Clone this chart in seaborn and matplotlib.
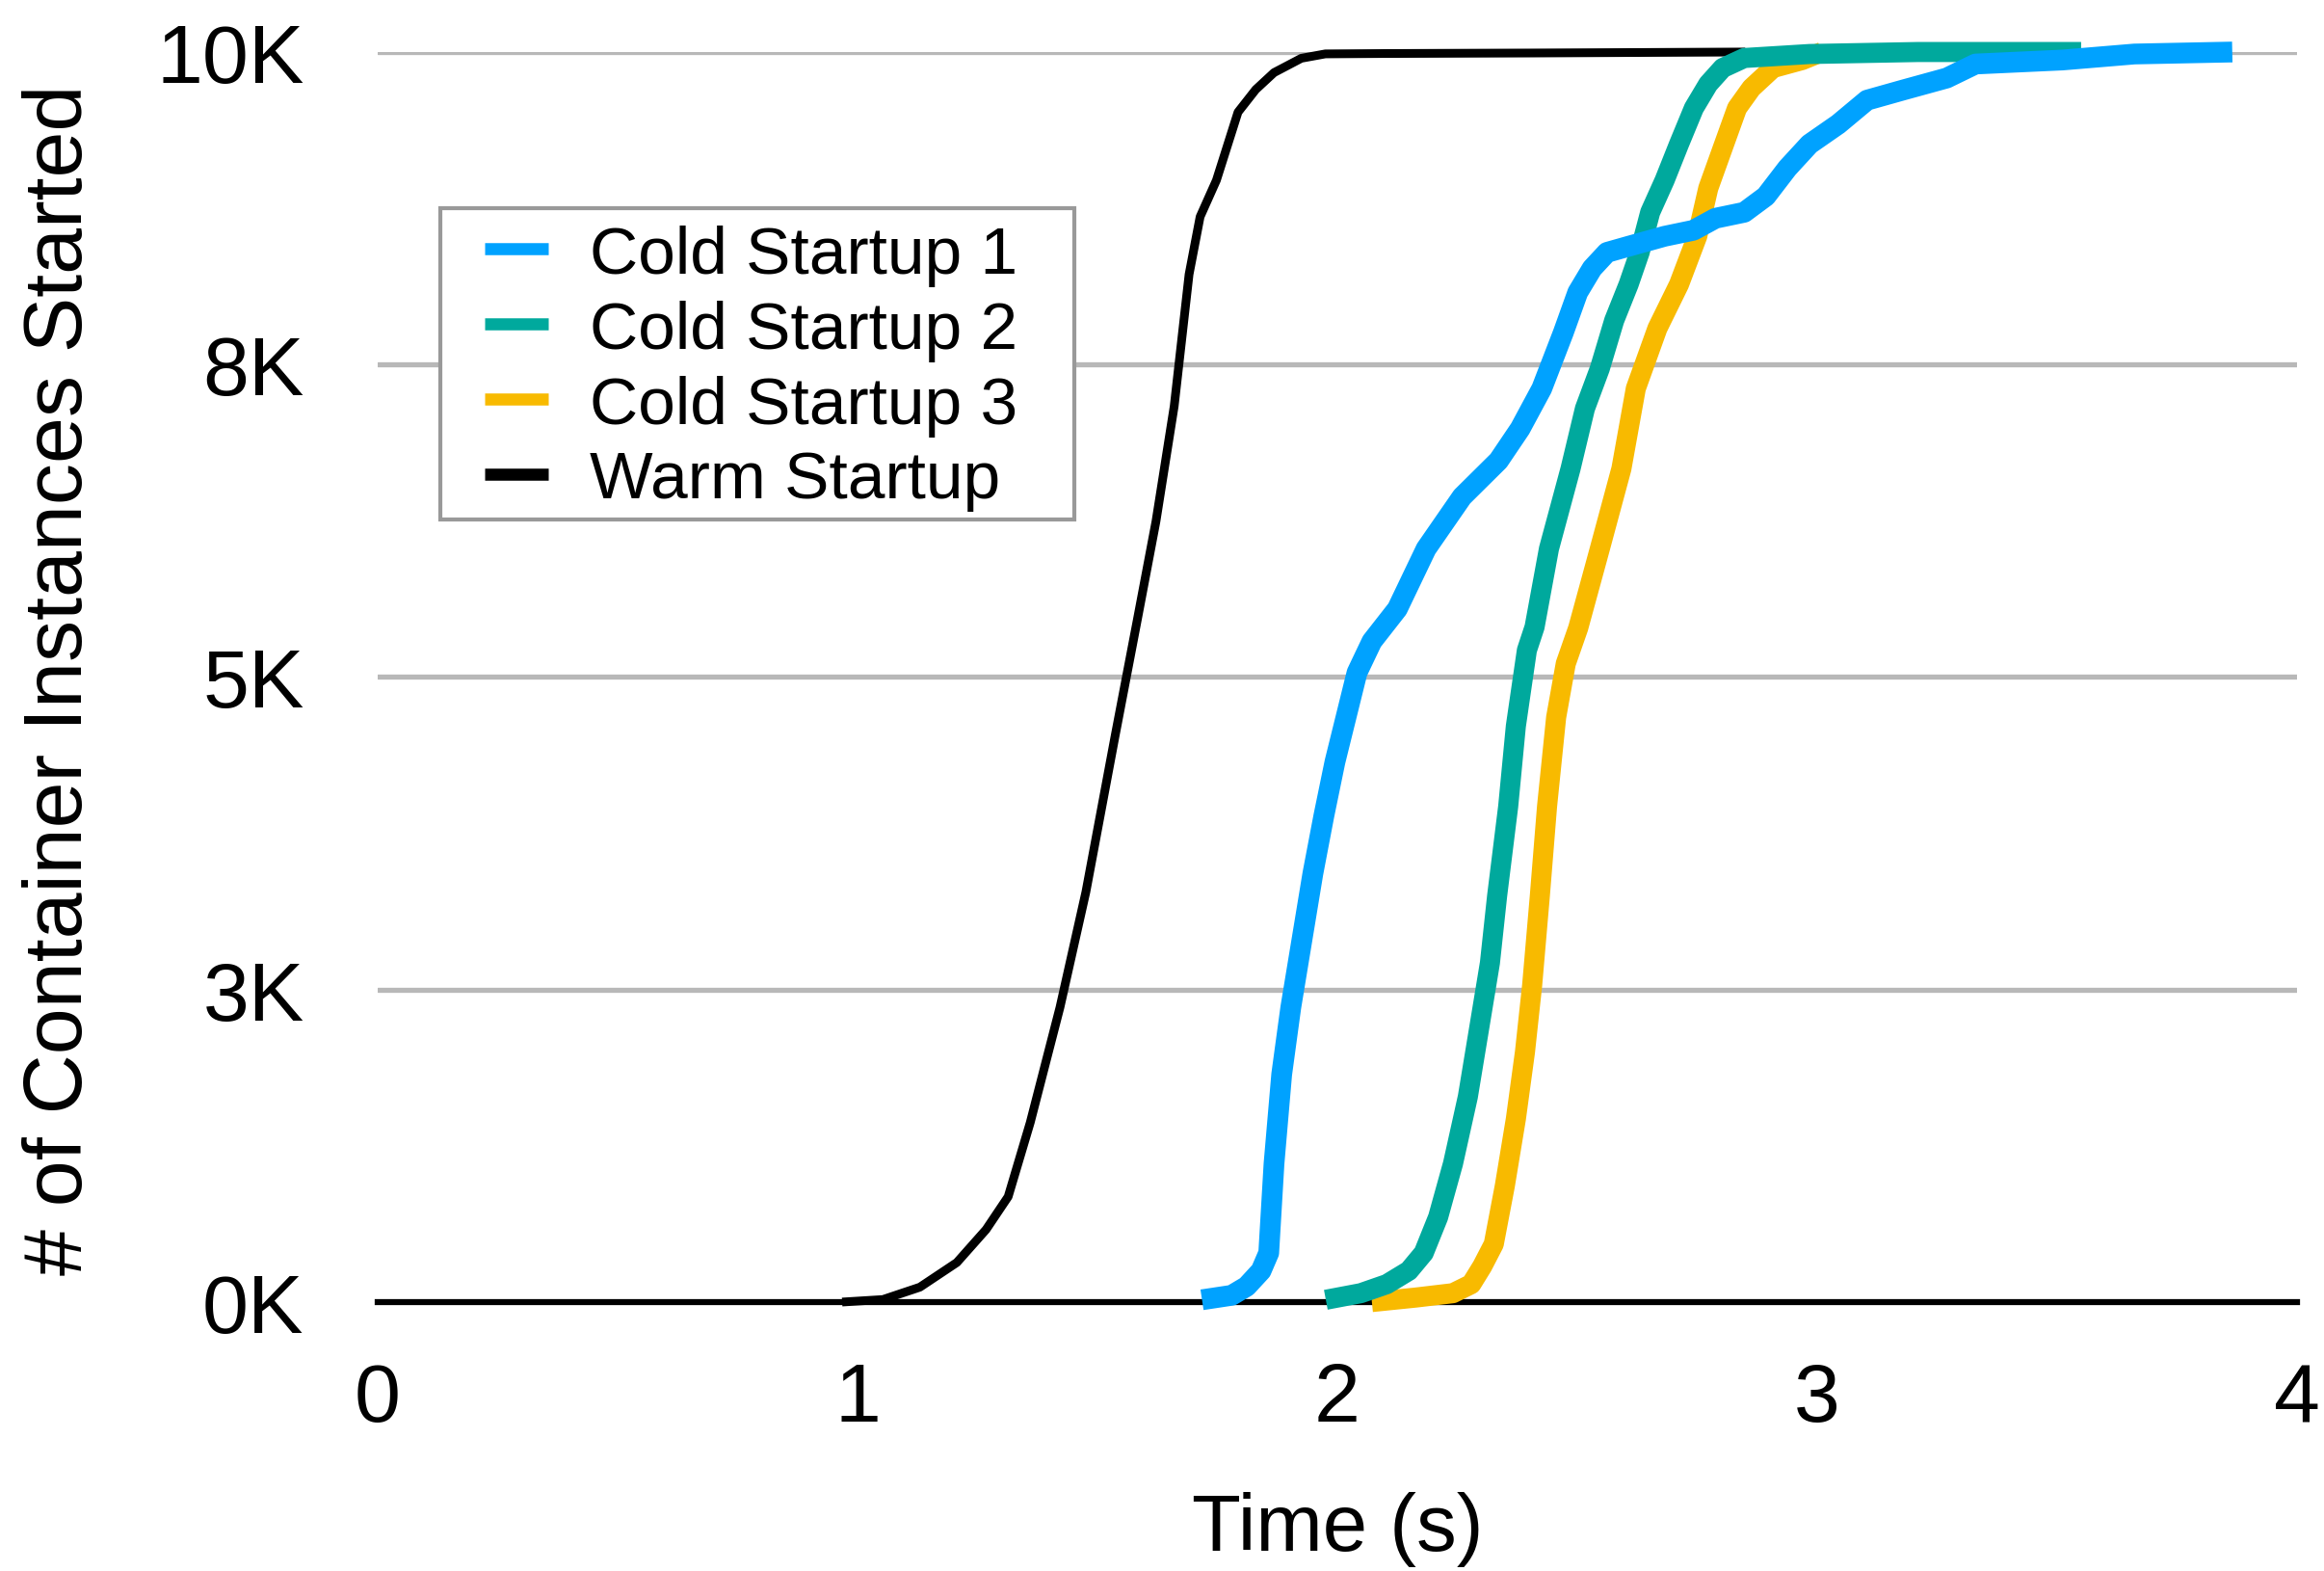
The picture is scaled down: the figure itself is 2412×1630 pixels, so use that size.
import matplotlib
matplotlib.use("Agg")
import matplotlib.pyplot as plt
from matplotlib.lines import Line2D
from matplotlib.patches import Rectangle
import pandas as pd
import seaborn as sns

# CDF of container starts
warm_t = [0.968, 1.053, 1.13, 1.207, 1.268, 1.314, 1.36, 1.422, 1.476, 1.537, 1.583,
          1.622, 1.66, 1.691, 1.714, 1.748, 1.793, 1.83, 1.868, 1.925, 1.975, 2.1,
          2.4, 2.85]
warm_n = [0, 20, 119, 316, 580, 843, 1436, 2358, 3281, 4532, 5455,
          6245, 7167, 8221, 8682, 8974, 9519, 9700, 9835, 9950, 9985, 9988,
          9992, 10000]

cold1_t = [1.718, 1.78, 1.811, 1.841, 1.857, 1.868, 1.884, 1.903, 1.926, 1.949, 1.972,
           1.995, 2.018, 2.041, 2.072, 2.125, 2.185, 2.26, 2.336, 2.381, 2.426, 2.471,
           2.501, 2.531, 2.562, 2.607, 2.682, 2.742, 2.788, 2.848, 2.893, 2.938, 2.984,
           3.044, 3.104, 3.179, 3.27, 3.33, 3.511, 3.661, 3.865]
cold1_n = [18, 54, 125, 250, 393, 1107, 1821, 2357, 2893, 3428, 3892,
           4321, 4678, 5035, 5285, 5545, 6026, 6442, 6731, 6987, 7308, 7756,
           8077, 8269, 8397, 8446, 8526, 8574, 8670, 8718, 8846, 9071, 9263,
           9423, 9615, 9696, 9792, 9904, 9936, 9984, 10000]

cold2_t = [1.976, 2.049, 2.103, 2.149, 2.18, 2.21, 2.241, 2.272, 2.295, 2.318, 2.333,
           2.356, 2.372, 2.395, 2.411, 2.441, 2.486, 2.516, 2.547, 2.577, 2.607, 2.63,
           2.652, 2.682, 2.712, 2.743, 2.773, 2.803, 2.848, 2.984, 3.21, 3.55]
cold2_n = [18, 71, 143, 250, 393, 679, 1107, 1643, 2178, 2714, 3250,
           3964, 4607, 5214, 5400, 6026, 6667, 7148, 7468, 7853, 8141, 8397,
           8718, 8974, 9263, 9551, 9744, 9872, 9952, 9984, 10000, 10000]

cold3_t = [2.072, 2.164, 2.241, 2.279, 2.302, 2.326, 2.349, 2.372, 2.391, 2.406, 2.422,
           2.437, 2.456, 2.476, 2.502, 2.547, 2.592, 2.622, 2.667, 2.712, 2.75, 2.773,
           2.803, 2.833, 2.863, 2.908, 2.969, 3.01]
cold3_n = [0, 36, 71, 143, 286, 464, 929, 1464, 2000, 2536, 3250,
           3964, 4678, 5107, 5393, 6026, 6667, 7308, 7789, 8141, 8526, 8910,
           9231, 9551, 9712, 9872, 9936, 10000]

series_names = ["Cold Startup 1", "Cold Startup 2", "Cold Startup 3", "Warm Startup"]
series_colors = ["#00a2ff", "#00a99d", "#f8ba00", "#000000"]

y_ticks = [0, 2500, 5000, 7500, 10000]
y_tick_labels = ["0K", "3K", "5K", "8K", "10K"]
x_ticks = [0, 1, 2, 3, 4]

frames = {
    "Cold Startup 1": pd.DataFrame({"t": cold1_t, "n": cold1_n}),
    "Cold Startup 2": pd.DataFrame({"t": cold2_t, "n": cold2_n}),
    "Cold Startup 3": pd.DataFrame({"t": cold3_t, "n": cold3_n}),
    "Warm Startup": pd.DataFrame({"t": warm_t, "n": warm_n}),
}

sns.set_style("white")
plt.rcParams["font.family"] = ["Liberation Sans", "DejaVu Sans"]

fig = plt.figure(figsize=(24.12, 16.31), dpi=100)
ax = fig.add_axes([0.1625, 0.1711, 0.8259, 0.7952])

# draw order: warm first, blue on top
widths = {"Cold Startup 1": 15.5, "Cold Startup 2": 15, "Cold Startup 3": 15, "Warm Startup": 6.5}
for name in ["Warm Startup", "Cold Startup 3", "Cold Startup 2", "Cold Startup 1"]:
    col = series_colors[series_names.index(name)]
    sns.lineplot(data=frames[name], x="t", y="n", ax=ax, color=col, linewidth=widths[name],
                 estimator=None, sort=False, clip_on=False, solid_capstyle="butt", zorder=3)

ax.set_xlim(0, 4)
ax.set_ylim(0, 10000)
ax.set_xticks(x_ticks)
ax.set_xticklabels([str(x) for x in x_ticks])
ax.set_yticks(y_ticks)
ax.set_yticklabels(y_tick_labels)
ax.tick_params(axis="both", length=0, labelsize=62, colors="black")
ax.tick_params(axis="x", pad=44)
ax.tick_params(axis="y", pad=55)

ax.grid(axis="y", color="#b8b8b8", linewidth=3.8, zorder=1)
ax.grid(axis="x", visible=False)
for side in ["top", "right", "left"]:
    ax.spines[side].set_visible(False)
ax.spines["bottom"].set_color("black")
ax.spines["bottom"].set_linewidth(4.5)
ax.spines["bottom"].set_zorder(2)

ax.set_xlabel("Time (s)", fontsize=60, color="black")
ax.xaxis.label.set_verticalalignment("baseline")
ax.xaxis.set_label_coords(0.5755, 0.0135, transform=fig.transFigure)
ax.set_ylabel("# of Container Instances Started", fontsize=62, color="black")
ax.yaxis.label.set_verticalalignment("center")
ax.yaxis.set_label_coords(0.026, 0.5677, transform=fig.transFigure)

# legend frame drawn by hand (wider side padding than matplotlib gives)
ax.add_patch(Rectangle((0.1895, 0.6689), 0.2728, 0.198, transform=fig.transFigure,
                       facecolor="white", edgecolor="#999999", linewidth=3, zorder=4,
                       clip_on=False))
handles = [Line2D([0], [0], color=c, linewidth=9, solid_capstyle="butt") for c in series_colors]
leg = ax.legend(handles, series_names, loc="upper left", bbox_to_anchor=(0.2086, 0.8567),
                bbox_transform=fig.transFigure, fontsize=50, frameon=False,
                borderpad=0, labelspacing=0.2, handlelength=0.95, handletextpad=0.62,
                borderaxespad=0)
leg.set_zorder(5)
for t in leg.get_texts():
    t.set_color("black")

fig.savefig("out.png", dpi=100)
